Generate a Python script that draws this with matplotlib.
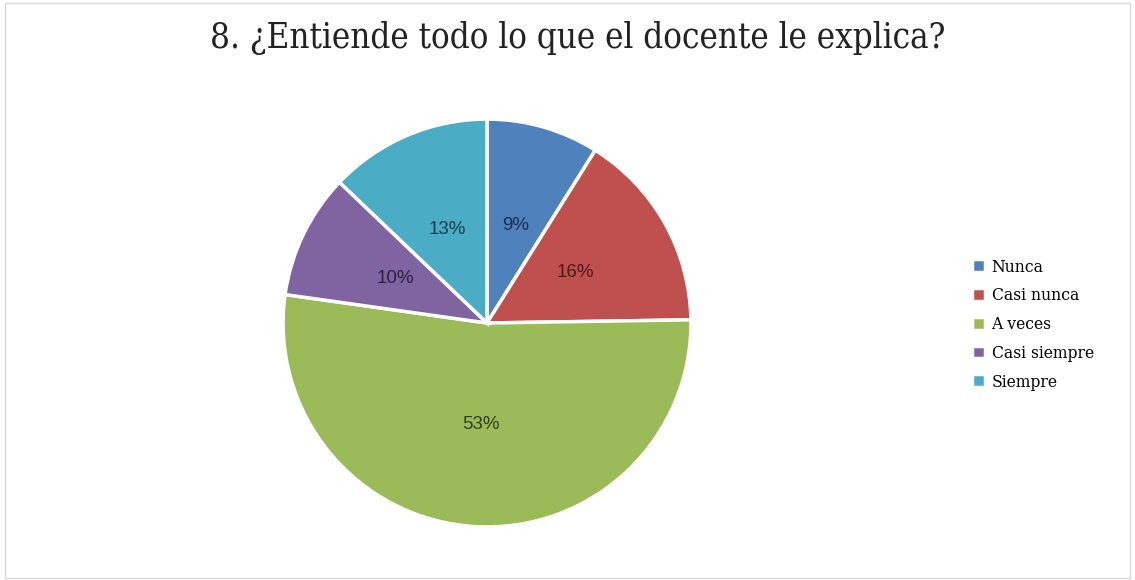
import numpy as np
import matplotlib.pyplot as plt
from matplotlib.patches import Rectangle

categories = ['Nunca', 'Casi nunca', 'A veces', 'Casi siempre', 'Siempre']
percentages = [9, 16, 53, 10, 13]
colors = ['#4F81BD', '#C0504D', '#9BBB59', '#8064A2', '#4BACC6']
label_colors = ['#1d2f4a', '#4a1a19', '#33401d', '#2b2040', '#17404b']
title = '8. ¿Entiende todo lo que el docente le explica?'

fig = plt.figure(figsize=(11.35, 5.8), dpi=100)
fig.patches.append(Rectangle((0.004, 0.004), 0.992, 0.99, transform=fig.transFigure,
                             fill=False, edgecolor='#d9d9d9', linewidth=1))

# pie centred at (487, 323) px with radius ~203 px
r_px = 208
ax = fig.add_axes([(487 - r_px) / 1135, (257 - r_px) / 580, 2 * r_px / 1135, 2 * r_px / 580])
wedges, texts = ax.pie(percentages, colors=colors, startangle=90, counterclock=False,
                       wedgeprops=dict(edgecolor='white', linewidth=2.5))
ax.set_xlim(-1.02, 1.02)
ax.set_ylim(-1.02, 1.02)
ax.set_aspect('equal')

total = sum(percentages)
start = 90.0
for val, c in zip(percentages, label_colors):
    span = 360.0 * val / total
    mid = np.deg2rad(start - span / 2)
    ax.text(0.5 * np.cos(mid), 0.5 * np.sin(mid), f'{val}%', ha='center', va='center',
            fontsize=13.5, color=c, family='Liberation Sans')
    start -= span

fig.text(0.509, 0.934, title, ha='center', va='center', fontsize=25,
         family='DejaVu Serif', stretch='condensed', color='#222222')

leg = fig.legend(wedges, categories, loc='center left', bbox_to_anchor=(0.843, 0.44),
                 frameon=False, prop=dict(family='DejaVu Serif', stretch='condensed', size=12.5),
                 handlelength=0.75, handleheight=0.75, handletextpad=0.35, labelspacing=0.68)

fig.savefig('out.png', dpi=100, facecolor='white')
